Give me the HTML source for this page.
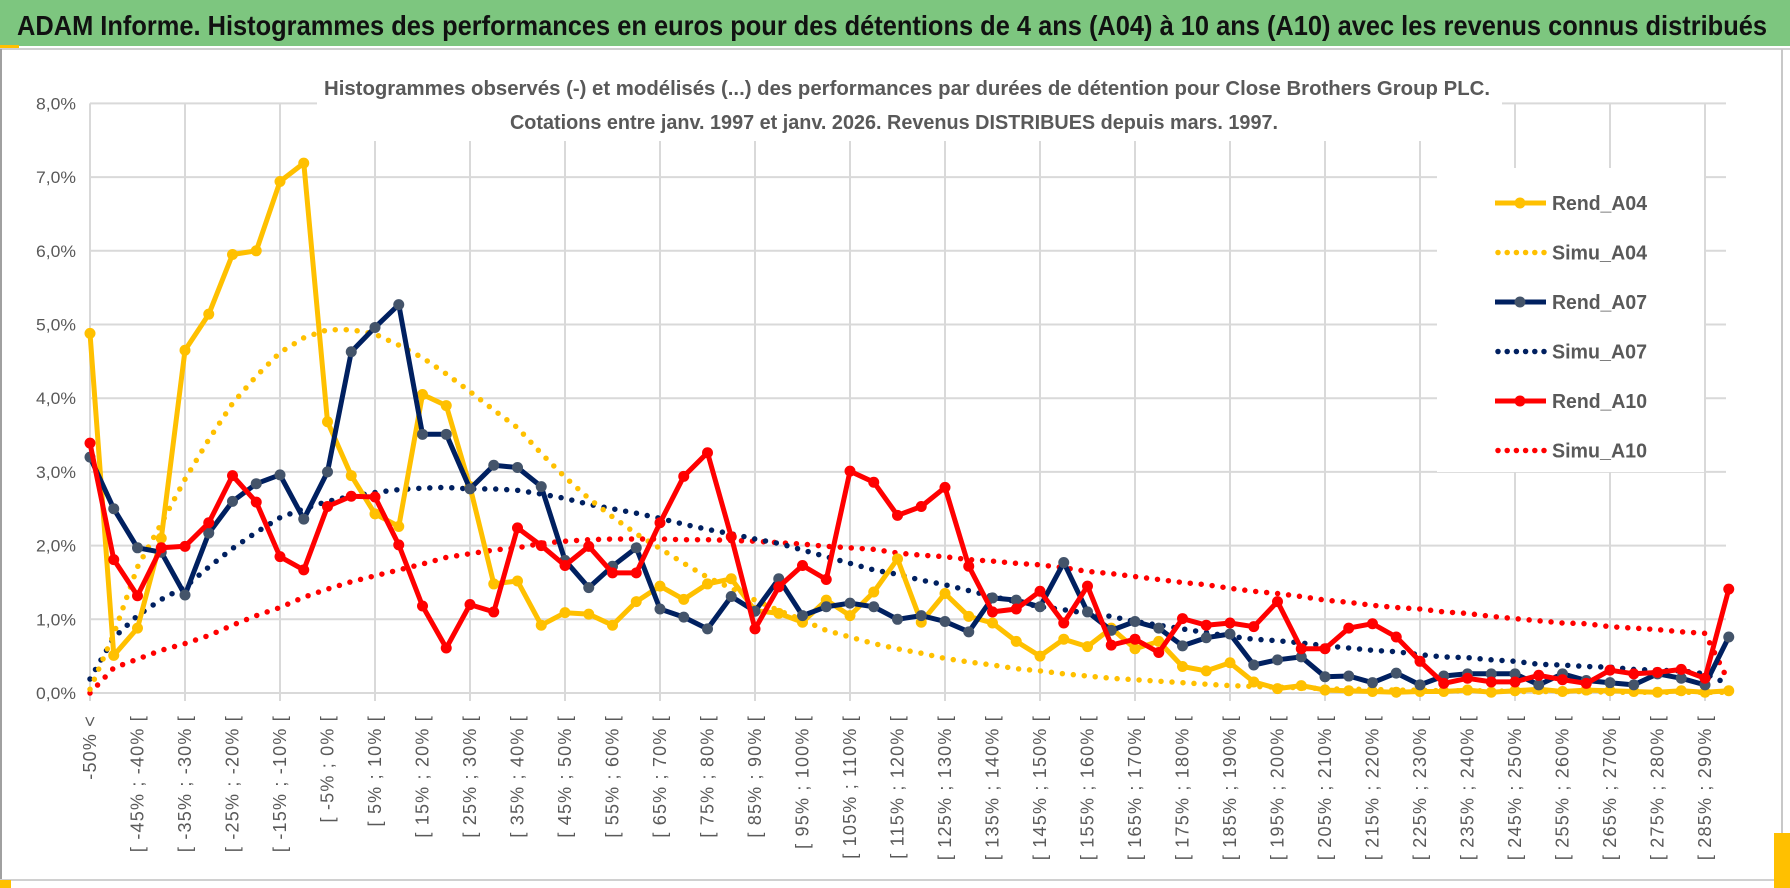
<!DOCTYPE html>
<html><head><meta charset="utf-8"><style>
html,body{margin:0;padding:0;background:#fff;}
#wrap{position:relative;width:1790px;height:888px;overflow:hidden;background:#fff;}
svg text{font-family:"Liberation Sans",sans-serif;}
</style></head><body>
<div id="wrap">
<svg id="chart" width="1790" height="888" viewBox="0 0 1790 888" xmlns="http://www.w3.org/2000/svg">
  <rect x="0" y="0" width="1790" height="888" fill="#fff"/>
  <rect x="0" y="0" width="1790" height="46" fill="#7dc67f"/>
  <rect x="0" y="45" width="19" height="3" fill="#ffc000"/>
  <line x1="0" y1="49" x2="1790" y2="49" stroke="#d0d0d0" stroke-width="2"/>
  <text x="17" y="35" font-size="28" font-weight="bold" fill="#111" textLength="1750" lengthAdjust="spacingAndGlyphs">ADAM Informe. Histogrammes des performances en euros pour des détentions de 4 ans (A04) à 10 ans (A10) avec les revenus connus distribués</text>
  <line x1="1" y1="49" x2="1" y2="888" stroke="#a0a0a0" stroke-width="2"/>
  <line x1="1782" y1="49" x2="1782" y2="888" stroke="#c8c8c8" stroke-width="2"/>
  <line x1="0" y1="880" x2="1790" y2="880" stroke="#d0d0d0" stroke-width="2"/>
  <rect x="0" y="880" width="11" height="8" fill="#ffc000"/>
  <rect x="1774" y="833" width="16" height="55" fill="#ffc000"/>
  <g id="grid"></g>
  <g id="axes"></g>
  <g id="series"></g>
  <rect x="317" y="70" width="1185" height="71" fill="#fff"/>
  <text x="907" y="95" font-size="20" font-weight="bold" fill="#595959" text-anchor="middle" textLength="1166" lengthAdjust="spacingAndGlyphs">Histogrammes observés (-) et modélisés (...) des performances par durées de détention pour Close Brothers Group PLC.</text>
  <text x="894" y="129" font-size="20" font-weight="bold" fill="#595959" text-anchor="middle" textLength="768" lengthAdjust="spacingAndGlyphs">Cotations entre janv. 1997 et janv. 2026. Revenus DISTRIBUES depuis mars. 1997.</text>
  <g id="legend"></g>
</svg>
</div>
<script>
const categoryCount = 70;
const yTicks = [0,1,2,3,4,5,6,7,8];
const yTickLabels = ["0,0%","1,0%","2,0%","3,0%","4,0%","5,0%","6,0%","7,0%","8,0%"];
const categoryLabels = (function(){const a=[];for(let i=0;i<70;i++){if(i===0)a.push("-50% <");else if(i%2===0){const lo=-50+5*(i-1);a.push("[ "+lo+"% ; "+(lo+5)+"% [");}else a.push("");}return a;})();

const rendA04 = [4.88,0.51,0.88,2.1,4.65,5.14,5.95,6.0,6.94,7.19,3.68,2.95,2.43,2.26,4.05,3.9,2.8,1.48,1.52,0.92,1.09,1.07,0.92,1.24,1.45,1.27,1.48,1.55,1.12,1.08,0.96,1.26,1.05,1.37,1.82,0.96,1.35,1.04,0.95,0.70,0.50,0.73,0.63,0.88,0.60,0.70,0.36,0.30,0.41,0.15,0.06,0.10,0.04,0.03,0.02,0.01,0.02,0.02,0.04,0.01,0.03,0.05,0.02,0.04,0.03,0.02,0.01,0.03,0.01,0.03];
const simuA04 = [0.05,0.8,1.71,2.3,2.9,3.44,3.93,4.3,4.62,4.82,4.93,4.93,4.87,4.72,4.55,4.33,4.09,3.84,3.6,3.25,2.93,2.64,2.39,2.16,1.96,1.76,1.57,1.42,1.26,1.12,0.99,0.85,0.76,0.67,0.6,0.54,0.47,0.42,0.38,0.33,0.3,0.26,0.23,0.2,0.18,0.16,0.14,0.12,0.1,0.09,0.08,0.07,0.06,0.05,0.05,0.04,0.04,0.03,0.03,0.03,0.02,0.02,0.02,0.02,0.01,0.01,0.01,0.01,0.01,0.01];
const rendA07 = [3.2,2.5,1.97,1.91,1.33,2.17,2.6,2.84,2.96,2.36,3.0,4.63,4.96,5.27,3.51,3.51,2.77,3.09,3.06,2.8,1.8,1.43,1.72,1.97,1.14,1.03,0.87,1.31,1.11,1.55,1.05,1.17,1.22,1.17,1.0,1.05,0.97,0.83,1.29,1.26,1.17,1.77,1.10,0.85,0.97,0.88,0.64,0.75,0.8,0.38,0.45,0.49,0.22,0.23,0.14,0.27,0.11,0.23,0.26,0.26,0.26,0.11,0.26,0.17,0.14,0.11,0.26,0.2,0.11,0.76];
const simuA07 = [0.19,0.75,1.05,1.27,1.44,1.71,1.96,2.18,2.38,2.5,2.6,2.67,2.72,2.76,2.78,2.79,2.77,2.77,2.75,2.7,2.64,2.56,2.5,2.44,2.37,2.29,2.22,2.16,2.09,2.03,1.94,1.85,1.76,1.67,1.61,1.53,1.47,1.39,1.31,1.24,1.17,1.13,1.08,1.04,0.97,0.92,0.87,0.82,0.77,0.73,0.71,0.68,0.64,0.61,0.58,0.56,0.52,0.49,0.48,0.45,0.43,0.39,0.38,0.36,0.35,0.32,0.31,0.3,0.26,0.12];
const rendA10 = [3.39,1.81,1.32,1.97,1.99,2.31,2.95,2.59,1.85,1.67,2.53,2.67,2.66,2.01,1.18,0.61,1.2,1.1,2.24,2.0,1.73,1.99,1.63,1.63,2.31,2.94,3.26,2.12,0.87,1.44,1.73,1.54,3.01,2.86,2.41,2.53,2.79,1.72,1.10,1.14,1.38,0.95,1.45,0.65,0.73,0.55,1.01,0.92,0.95,0.9,1.24,0.6,0.6,0.88,0.94,0.76,0.43,0.13,0.2,0.15,0.15,0.24,0.18,0.13,0.31,0.26,0.28,0.32,0.2,1.41];
const simuA10 = [0.0,0.34,0.46,0.58,0.67,0.78,0.92,1.05,1.16,1.3,1.41,1.51,1.59,1.67,1.75,1.84,1.89,1.94,1.97,2.03,2.06,2.08,2.09,2.09,2.09,2.08,2.08,2.07,2.06,2.04,2.02,1.99,1.97,1.95,1.9,1.87,1.85,1.81,1.79,1.76,1.74,1.7,1.65,1.62,1.58,1.54,1.5,1.47,1.42,1.38,1.35,1.31,1.26,1.23,1.19,1.16,1.14,1.1,1.08,1.04,1.01,0.98,0.95,0.94,0.9,0.88,0.86,0.83,0.81,0.15];

const NS="http://www.w3.org/2000/svg";
const X0=90, STEP=23.75, Y0=693, YPX=73.7, XEND=1726;
function xPos(i){return X0+STEP*i;}
function yPos(v){return Y0-YPX*v;}
function mk(tag,attrs,parent){const e=document.createElementNS(NS,tag);for(const k in attrs)e.setAttribute(k,attrs[k]);parent.appendChild(e);return e;}

const grid=document.getElementById('grid');
yTicks.forEach(function(t){
  const l=mk('line',{x1:X0,x2:XEND,y1:yPos(t),y2:yPos(t),stroke:'#d9d9d9','stroke-width':2},grid);
  
  
});
for(let i=0;i<categoryCount;i+=4){
  const l=mk('line',{x1:xPos(i),x2:xPos(i),y1:yPos(8),y2:Y0+8,stroke:'#d9d9d9','stroke-width':2},grid);
  
  
}
const axes=document.getElementById('axes');
yTicks.forEach(function(t,k){
  const tx=mk('text',{x:76,y:yPos(t)+6,'font-size':17,fill:'#595959','text-anchor':'end',textLength:40,lengthAdjust:'spacingAndGlyphs'},axes);
  tx.textContent=yTickLabels[k];
  
  
});
categoryLabels.forEach(function(lab,i){
  if(!lab)return;
  const x=xPos(i)+6, y=715;
  const tx=mk('text',{x:x,y:y,'font-size':18,'letter-spacing':'1.2',fill:'#595959','text-anchor':'end',transform:'rotate(-90 '+x+' '+y+')','xml:space':'preserve'},axes);
  tx.textContent=lab;
  
  
});

const series=document.getElementById('series');
function pts(arr){return arr.map(function(v,i){return xPos(i).toFixed(1)+','+yPos(v).toFixed(1);}).join(' ');}
function dotted(arr,color,name){
  const p=mk('polyline',{points:pts(arr),fill:'none',stroke:color,'stroke-width':5.5,'stroke-linecap':'round','stroke-dasharray':'0 11'},series);
  
  
}
function solid(arr,color,mcolor,name){
  const g=mk('g',{},series);
  
  
  mk('polyline',{points:pts(arr),fill:'none',stroke:color,'stroke-width':5,'stroke-linejoin':'round'},g);
  arr.forEach(function(v,i){
    const c=mk('circle',{cx:xPos(i),cy:yPos(v),r:5.5,fill:mcolor},g);
    
    
  });
}
dotted(simuA10,'#ff0000','simu-a10-line');
dotted(simuA07,'#002060','simu-a07-line');
dotted(simuA04,'#ffc000','simu-a04-line');
solid(rendA04,'#ffc000','#ffc000','rend-a04-line');
solid(rendA07,'#002060','#44546a','rend-a07-line');
solid(rendA10,'#ff0000','#ff0000','rend-a10-line');

const legend=document.getElementById('legend');
const lbg=mk('rect',{x:1437,y:168,width:267,height:304,fill:'#fff'},legend);


const legendItems=[['Rend_A04','#ffc000','#ffc000',false],['Simu_A04','#ffc000','',true],['Rend_A07','#002060','#44546a',false],['Simu_A07','#002060','',true],['Rend_A10','#ff0000','#ff0000',false],['Simu_A10','#ff0000','',true]];
legendItems.forEach(function(it,k){
  const y=203+49.5*k;
  const g=mk('g',{},legend);
  
  
  if(it[3]){
    mk('line',{x1:1498,x2:1544,y1:y,y2:y,stroke:it[1],'stroke-width':5.5,'stroke-linecap':'round','stroke-dasharray':'0 9.2'},g);
  } else {
    mk('line',{x1:1495,x2:1546,y1:y,y2:y,stroke:it[1],'stroke-width':5},g);
    mk('circle',{cx:1520,cy:y,r:5.5,fill:it[2]},g);
  }
  const t=mk('text',{x:1552,y:y+7,'font-size':20,'font-weight':'bold',fill:'#595959',textLength:95,lengthAdjust:'spacingAndGlyphs'},g);
  t.textContent=it[0];
});
</script>
</body></html>
